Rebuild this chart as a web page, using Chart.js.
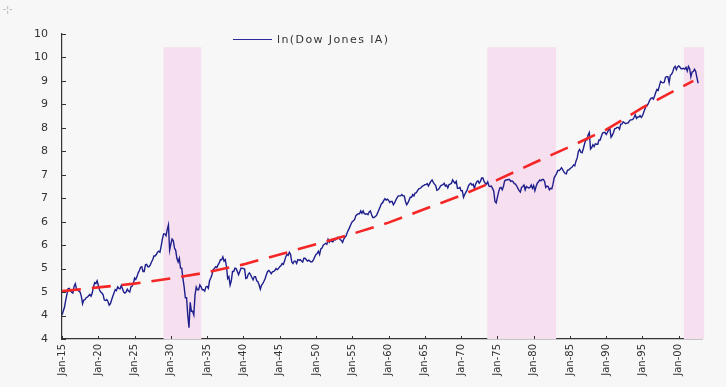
<!DOCTYPE html>
<html>
<head>
<meta charset="utf-8">
<script src="https://cdn.jsdelivr.net/npm/chart.js@4.4.1/dist/chart.umd.min.js"></script>
<style>
  body { margin: 0; background: #f7f7f8; }
  #wrap { position: relative; width: 726px; height: 387px; }
  #legend {
    position: absolute; left: 233px; top: 33px;
    font: 11px "DejaVu Sans", sans-serif; letter-spacing: 1.4px; color: #333;
    display: flex; align-items: center;
  }
  #legend .swatch { width: 39px; height: 0; border-top: 1.5px solid #2a2a9a; margin-right: 5px; }
  #corner { position: absolute; left: 3px; top: 4px; font: 9px "DejaVu Sans", sans-serif; color: #aaa; }
</style>
</head>
<body>
<div id="wrap">
  <canvas id="chart" width="726" height="387"></canvas>
  <div id="corner">-¦-</div>
  <div id="legend"><span class="swatch"></span>ln(Dow Jones IA)</div>
</div>
<script>
// ln(DJIA), six readings per year (Jan, Mar, May, Jul, Sep, Nov) starting Jan 1915
const startYear = 1915;
const stepsPerYear = 6;
const lnDow = [
  4.01, 4.09, 4.17, 4.32, 4.44, 4.57, // 1915
  4.58, 4.52, 4.50, 4.48, 4.62, 4.68,
  4.57, 4.55, 4.52, 4.50, 4.41, 4.25,
  4.33, 4.34, 4.38, 4.39, 4.42, 4.45,
  4.41, 4.48, 4.61, 4.70, 4.68, 4.74,
  4.65, 4.55, 4.50, 4.48, 4.44, 4.33, // 1920
  4.32, 4.34, 4.30, 4.22, 4.25, 4.33,
  4.41, 4.48, 4.55, 4.53, 4.61, 4.58,
  4.57, 4.64, 4.57, 4.50, 4.48, 4.50,
  4.56, 4.52, 4.50, 4.61, 4.63, 4.68,
  4.80, 4.77, 4.83, 4.91, 4.96, 5.03, // 1925
  5.04, 4.94, 4.94, 5.08, 5.09, 5.04,
  5.04, 5.08, 5.14, 5.19, 5.27, 5.27,
  5.30, 5.35, 5.37, 5.35, 5.48, 5.63,
  5.74, 5.74, 5.70, 5.83, 5.93, 5.39,
  5.52, 5.63, 5.60, 5.44, 5.39, 5.22, // 1930
  5.14, 5.22, 5.01, 5.01, 4.79, 4.61,
  4.38, 4.38, 4.01, 3.74, 4.28, 4.09,
  4.09, 4.01, 4.44, 4.61, 4.55, 4.55,
  4.65, 4.61, 4.55, 4.55, 4.52, 4.61,
  4.62, 4.58, 4.74, 4.80, 4.87, 4.98, // 1935
  5.00, 5.04, 5.02, 5.08, 5.12, 5.19,
  5.19, 5.25, 5.16, 5.19, 5.04, 4.79,
  4.83, 4.65, 4.74, 4.94, 4.94, 5.01,
  5.00, 4.94, 4.87, 4.94, 5.01, 5.01,
  5.00, 4.99, 4.79, 4.80, 4.88, 4.91, // 1940
  4.87, 4.81, 4.76, 4.83, 4.83, 4.74,
  4.72, 4.65, 4.56, 4.65, 4.68, 4.73,
  4.79, 4.87, 4.94, 4.96, 4.93, 4.89,
  4.93, 4.94, 4.96, 5.00, 4.98, 5.00,
  5.04, 5.06, 5.11, 5.09, 5.16, 5.25, // 1945
  5.30, 5.28, 5.35, 5.30, 5.14, 5.11,
  5.16, 5.16, 5.11, 5.19, 5.18, 5.19,
  5.16, 5.14, 5.22, 5.22, 5.19, 5.16,
  5.18, 5.16, 5.14, 5.15, 5.19, 5.25,
  5.30, 5.32, 5.37, 5.30, 5.42, 5.44, // 1950
  5.50, 5.52, 5.54, 5.52, 5.62, 5.56,
  5.60, 5.58, 5.57, 5.62, 5.61, 5.63,
  5.67, 5.65, 5.62, 5.60, 5.56, 5.63,
  5.67, 5.70, 5.78, 5.83, 5.89, 5.95,
  6.00, 6.02, 6.05, 6.13, 6.15, 6.17, // 1955
  6.17, 6.23, 6.18, 6.23, 6.17, 6.16,
  6.17, 6.15, 6.21, 6.23, 6.15, 6.09,
  6.09, 6.11, 6.13, 6.19, 6.25, 6.31,
  6.38, 6.40, 6.45, 6.49, 6.46, 6.48,
  6.46, 6.41, 6.43, 6.43, 6.36, 6.40, // 1960
  6.46, 6.51, 6.55, 6.55, 6.55, 6.58,
  6.55, 6.55, 6.43, 6.36, 6.40, 6.46,
  6.52, 6.52, 6.58, 6.55, 6.61, 6.62,
  6.66, 6.70, 6.71, 6.73, 6.76, 6.77,
  6.79, 6.79, 6.81, 6.76, 6.81, 6.86, // 1965
  6.89, 6.84, 6.80, 6.77, 6.67, 6.68,
  6.71, 6.76, 6.78, 6.79, 6.82, 6.76,
  6.78, 6.72, 6.79, 6.80, 6.82, 6.89,
  6.85, 6.82, 6.86, 6.71, 6.71, 6.73,
  6.66, 6.66, 6.52, 6.58, 6.63, 6.67, // 1970
  6.76, 6.80, 6.82, 6.78, 6.80, 6.71,
  6.80, 6.85, 6.87, 6.82, 6.86, 6.93,
  6.93, 6.86, 6.82, 6.80, 6.85, 6.76,
  6.75, 6.76, 6.71, 6.65, 6.43, 6.40,
  6.52, 6.63, 6.72, 6.73, 6.68, 6.75, // 1975
  6.87, 6.89, 6.89, 6.90, 6.90, 6.86,
  6.87, 6.85, 6.81, 6.80, 6.76, 6.71,
  6.66, 6.63, 6.73, 6.75, 6.78, 6.68,
  6.75, 6.73, 6.72, 6.73, 6.78, 6.71,
  6.77, 6.66, 6.75, 6.82, 6.85, 6.89, // 1980
  6.87, 6.90, 6.90, 6.86, 6.73, 6.76,
  6.75, 6.68, 6.71, 6.70, 6.80, 6.94,
  6.98, 7.03, 7.09, 7.09, 7.11, 7.15,
  7.11, 7.06, 7.03, 7.02, 7.10, 7.10,
  7.13, 7.15, 7.17, 7.21, 7.19, 7.29, // 1985
  7.36, 7.50, 7.54, 7.48, 7.47, 7.55,
  7.65, 7.74, 7.74, 7.85, 7.90, 7.55,
  7.58, 7.64, 7.60, 7.66, 7.65, 7.65,
  7.74, 7.74, 7.82, 7.89, 7.90, 7.90,
  7.86, 7.90, 7.96, 7.99, 7.80, 7.84, // 1990
  7.90, 7.98, 7.99, 8.01, 8.01, 7.97,
  8.08, 8.08, 8.13, 8.11, 8.09, 8.10,
  8.10, 8.14, 8.17, 8.17, 8.18, 8.22,
  8.28, 8.20, 8.23, 8.23, 8.26, 8.22,
  8.26, 8.33, 8.40, 8.46, 8.48, 8.53, // 1995
  8.59, 8.63, 8.64, 8.61, 8.68, 8.76,
  8.82, 8.80, 8.90, 8.99, 8.97, 8.96,
  8.97, 9.08, 9.09, 9.09, 8.96, 9.12,
  9.14, 9.19, 9.28, 9.31, 9.24, 9.30,
  9.32, 9.29, 9.26, 9.26, 9.27, 9.25, // 2000
  9.29, 9.21, 9.31, 9.26, 9.09, 9.19,
  9.20, 9.25, 9.20, 9.07, 8.95
];

// red dashed trend
const trendYears = [1915, 1920, 1925, 1930, 1935, 1940, 1945, 1950, 1955, 1960,
                    1965, 1970, 1975, 1980, 1985, 1990, 1995, 2000, 2002];
const trendValues = [4.52, 4.60, 4.68, 4.79, 4.92, 5.09, 5.30, 5.52, 5.74, 5.98,
                     6.27, 6.56, 6.89, 7.25, 7.60, 7.96, 8.43, 8.84, 9.00];

// shaded periods
const bandStarts = [1929.0, 1973.6, 2000.7];
const bandEnds = [1934.2, 1983.1, 2003.5];
const bandTop = 9.72;

const tickYears = [1915, 1920, 1925, 1930, 1935, 1940, 1945, 1950, 1955,
                   1960, 1965, 1970, 1975, 1980, 1985, 1990, 1995, 2000];

const dowPoints = lnDow.map((v, i) => ({ x: startYear + i / stepsPerYear, y: v }));
const trendPoints = trendYears.map((yr, i) => ({ x: yr, y: trendValues[i] }));

const bandsPlugin = {
  id: 'bands',
  beforeDatasetsDraw(chart) {
    const { ctx, scales: { x, y } } = chart;
    ctx.save();
    ctx.fillStyle = '#f6e0ef';
    bandStarts.forEach((s, i) => {
      const x0 = x.getPixelForValue(s);
      const x1 = x.getPixelForValue(bandEnds[i]);
      const y0 = y.getPixelForValue(bandTop);
      const y1 = y.getPixelForValue(3.5);
      ctx.fillRect(x0, y0, x1 - x0, y1 - y0);
    });
    ctx.restore();
  },
  afterDraw(chart) {
    // little inward tick marks like the original
    const { ctx, scales: { x, y } } = chart;
    ctx.save();
    ctx.strokeStyle = '#333';
    ctx.lineWidth = 1;
    ctx.beginPath();
    y.ticks.forEach(t => {
      const py = Math.round(y.getPixelForValue(t.value)) + 0.5;
      ctx.moveTo(x.left, py);
      ctx.lineTo(x.left + 4, py);
    });
    tickYears.forEach(yr => {
      const px = Math.round(x.getPixelForValue(yr)) + 0.5;
      ctx.moveTo(px, y.bottom);
      ctx.lineTo(px, y.bottom - 3);
    });
    ctx.stroke();
    ctx.restore();
  }
};

const bgPlugin = {
  id: 'bg',
  beforeDraw(chart) {
    const ctx = chart.ctx;
    ctx.save();
    ctx.fillStyle = '#f7f7f8';
    ctx.fillRect(0, 0, chart.width, chart.height);
    ctx.restore();
  }
};

const ctx = document.getElementById('chart').getContext('2d');
new Chart(ctx, {
  type: 'line',
  data: {
    datasets: [
      {
        label: 'trend',
        data: trendPoints,
        borderColor: '#f42626',
        borderWidth: 2.6,
        borderDash: [19, 11],
        pointRadius: 0,
        tension: 0,
        order: 0
      },
      {
        label: 'ln(Dow Jones IA)',
        data: dowPoints,
        borderColor: '#1e1e8c',
        borderWidth: 1.4,
        pointRadius: 0,
        tension: 0,
        order: 1
      }
    ]
  },
  options: {
    responsive: false,
    animation: false,
    devicePixelRatio: 1,
    layout: { padding: { top: 34, right: 24, left: 0, bottom: 0 } },
    plugins: {
      legend: { display: false },
      tooltip: { enabled: false }
    },
    scales: {
      x: {
        type: 'linear',
        min: 1915,
        max: 2003.2,
        afterBuildTicks(scale) {
          scale.ticks = tickYears.map(v => ({ value: v }));
        },
        afterFit(scale) { scale.height = 48; },
        grid: { display: false, drawTicks: false },
        border: { display: true, color: '#333', width: 1.2 },
        ticks: {
          minRotation: 90,
          maxRotation: 90,
          padding: 5,
          color: '#333',
          font: { family: 'DejaVu Sans', size: 10 },
          callback: v => 'Jan-' + String(v % 100).padStart(2, '0')
        }
      },
      y: {
        min: 3.5,
        max: 10,
        afterFit(scale) { scale.width = 62; },
        grid: { display: false, drawTicks: false },
        border: { display: true, color: '#333', width: 1.2 },
        ticks: {
          stepSize: 0.5,
          padding: 14,
          color: '#333',
          font: { family: 'DejaVu Sans', size: 11 },
          callback: v => String(Math.round(v))
        }
      }
    }
  },
  plugins: [bgPlugin, bandsPlugin]
});
</script>
</body>
</html>
